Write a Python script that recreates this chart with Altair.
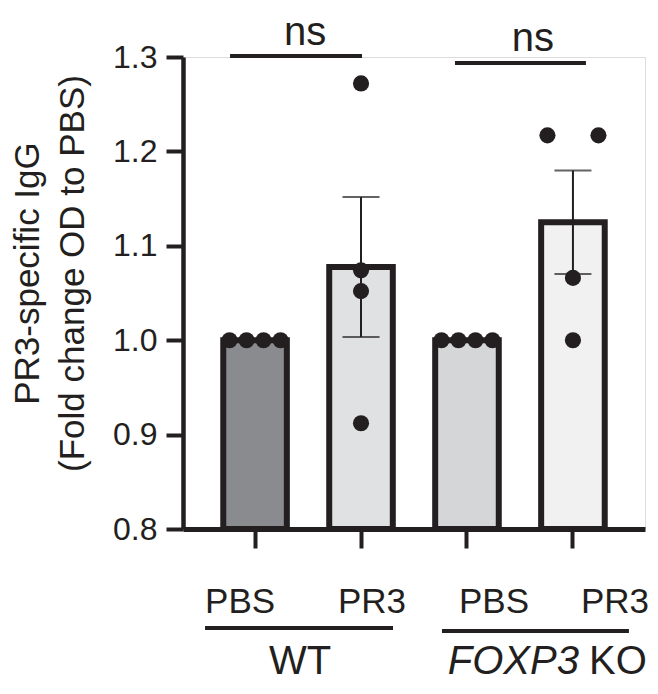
import altair as alt
import pandas as pd

# ---------------- data ----------------
categories = ["WT_PBS", "WT_PR3", "KO_PBS", "KO_PR3"]
tick_labels = ["PBS", "PR3", "PBS", "PR3"]
bar_fills = ["#8a8b8e", "#e0e1e3", "#d5d6d8", "#f1f1f2"]

wt_pbs = [1.0, 1.0, 1.0, 1.0]
wt_pr3 = [1.272, 1.074, 1.052, 0.912]
ko_pbs = [1.0, 1.0, 1.0, 1.0]
ko_pr3 = [1.217, 1.217, 1.066, 1.000]

# dodge slot of each dot inside its bar (beeswarm order)
wt_pbs_slot = [-1.5, -0.5, 0.5, 1.5]
wt_pr3_slot = [0, 0, 0, 0]
ko_pbs_slot = [-1.5, -0.5, 0.5, 1.5]
ko_pr3_slot = [-1.5, 1.5, 0, 0]

y_ticks = [0.8, 0.9, 1.0, 1.1, 1.2, 1.3]
y_title = ["PR3-specific IgG", "(Fold change OD to PBS)"]
sig_label = "ns"
group_wt = "WT"
group_ko_gene = "FOXP3"
group_ko_suffix = "KO"

# ---------------- tables ----------------
rows = []
for cat, vals, slots in zip(categories,
                            [wt_pbs, wt_pr3, ko_pbs, ko_pr3],
                            [wt_pbs_slot, wt_pr3_slot, ko_pbs_slot, ko_pr3_slot]):
    for v, s in zip(vals, slots):
        rows.append({"cat": cat, "value": v, "slot": s})
points_df = pd.DataFrame(rows)

INK = "#231f20"
FONT = "Liberation Sans"
SLOT_PX = 17

label_expr = " : ".join(f"datum.value == '{c}' ? '{l}'" for c, l in zip(categories, tick_labels)) + " : ''"
label_offset_expr = ("datum.value == 'WT_PBS' ? -15 : datum.value == 'WT_PR3' ? 11 : "
                     "datum.value == 'KO_PBS' ? 27 : 42")

x_axis = alt.Axis(
    title=None, labelExpr=label_expr, labelAngle=0, labelFontSize=35, labelFont=FONT,
    labelColor=INK, labelPadding=36, tickSize=19, tickWidth=4, tickColor=INK,
    domainWidth=5, domainColor=INK, grid=False, labelOffset={"expr": label_offset_expr},
)
x_enc = alt.X("cat:N", sort=categories,
              scale=alt.Scale(domain=categories, paddingInner=0.4, paddingOuter=0.38),
              axis=x_axis)

y_scale = alt.Scale(domain=[0.8, 1.3], zero=False, nice=False)
y_axis = alt.Axis(
    values=y_ticks, format=".1f", grid=False, domainWidth=4.5, domainColor=INK,
    tickWidth=4, tickSize=17, tickColor=INK, labelFontSize=32, labelFont=FONT,
    labelColor=INK, labelPadding=9, title=y_title, titleFontSize=35, titleFont=FONT,
    titleFontWeight="normal", titleColor=INK, titleAngle=270, titleX=-138, titleY=216,
    titleBaseline="bottom", titleLineHeight=45, titleAlign="center",
)

base = alt.Chart(points_df)

bars = base.transform_aggregate(
    mean="mean(value)", groupby=["cat"]
).mark_bar(stroke=INK, strokeWidth=6).encode(
    x=x_enc,
    y=alt.Y("mean:Q", scale=y_scale, axis=y_axis),
    y2=alt.datum(0.8),
    fill=alt.Fill("cat:N", scale=alt.Scale(domain=categories, range=bar_fills), legend=None),
)

slot_values = sorted(set(points_df["slot"]))
dot_layers = [
    base.transform_filter(f"datum.slot == {s}").mark_circle(
        size=260, opacity=1, color=INK, xOffset=s * SLOT_PX
    ).encode(x=x_enc, y=alt.Y("value:Q", scale=y_scale, axis=y_axis))
    for s in slot_values
]

err = base.transform_aggregate(
    mean="mean(value)", sem="stderr(value)", groupby=["cat"]
).transform_filter("datum.sem > 0").transform_calculate(
    lo="datum.mean - datum.sem", hi="datum.mean + datum.sem"
)
err_rule = err.mark_rule(color=INK, strokeWidth=2).encode(
    x=x_enc, y=alt.Y("lo:Q", scale=y_scale, axis=y_axis), y2="hi:Q")
err_lo = err.mark_tick(color=INK, thickness=2, size=37).encode(
    x=x_enc, y=alt.Y("lo:Q", scale=y_scale, axis=y_axis))
err_hi = err.mark_tick(color=INK, thickness=2, size=37).encode(
    x=x_enc, y=alt.Y("hi:Q", scale=y_scale, axis=y_axis))


def hline(c1, c2, off1, off2, ypix, width):
    d = pd.DataFrame({"cat": [c1], "cat_end": [c2]})
    return alt.Chart(d).mark_rule(color=INK, strokeWidth=width, xOffset=off1, x2Offset=off2).encode(
        x=x_enc, x2="cat_end:N", y=alt.value(ypix))


def label(cat, text, dx, ypix, size, align="center", style="normal"):
    d = pd.DataFrame({"cat": [cat], "t": [text]})
    return alt.Chart(d).mark_text(
        dx=dx, fontSize=size, font=FONT, color=INK, align=align, baseline="alphabetic",
        fontStyle=style).encode(x=x_enc, y=alt.value(ypix), text="t:N")


annotations = [
    hline("WT_PBS", "WT_PR3", -25, 1, -1, 4),
    hline("KO_PBS", "KO_PR3", -12, 13, 6, 4),
    label("WT_PBS", sig_label, 50, -12, 40),
    label("KO_PBS", sig_label, 66, -6, 40),
    hline("WT_PBS", "WT_PR3", -50, 32, 571, 4),
    hline("KO_PBS", "KO_PR3", -25, 56, 574, 4),
    label("WT_PBS", group_wt, 45, 617, 40),
    label("KO_PBS", group_ko_gene, 112, 617, 40, align="right", style="italic"),
    label("KO_PBS", group_ko_suffix, 122, 617, 40, align="left"),
]

chart = alt.layer(bars, *dot_layers, err_rule, err_lo, err_hi, *annotations).properties(
    width=462, height=472,
    autosize=alt.AutoSizeParams(type="none"),
    padding={"left": 175, "top": 49, "right": 5, "bottom": 155},
).configure_view(stroke=None).configure(font=FONT)

chart.save("out.html", embed_options={"renderer": "svg", "actions": False})
